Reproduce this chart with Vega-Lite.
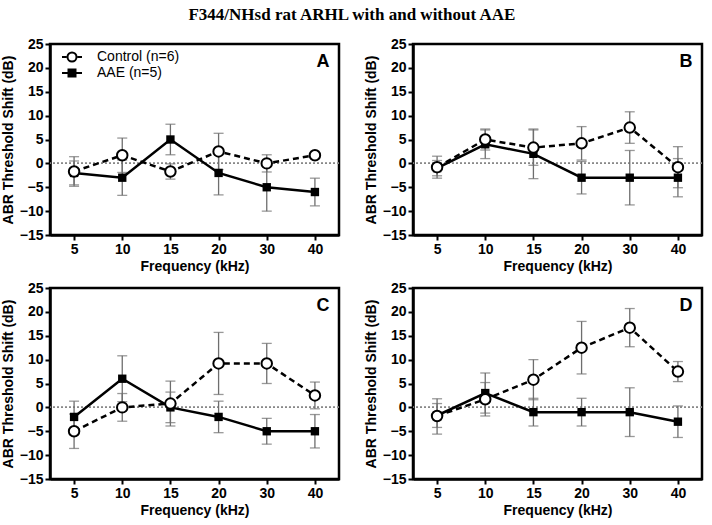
{
  "$schema": "https://vega.github.io/schema/vega-lite/v6.json",
  "title": {
    "text": "F344/NHsd rat ARHL with and without AAE",
    "font": "Liberation Serif",
    "fontSize": 17,
    "fontWeight": 900,
    "color": "#000000",
    "anchor": "middle",
    "offset": 12
  },
  "background": "#ffffff",
  "padding": {"left": 0, "top": 5, "right": 5, "bottom": 5},
  "config": {
    "view": {"stroke": "#000000", "strokeWidth": 2.5},
    "axis": {
      "grid": false,
      "domainColor": "#000000",
      "domainWidth": 2.5,
      "tickColor": "#000000",
      "tickWidth": 2,
      "tickSize": 5,
      "labelOverlap": false,
      "labelFont": "Liberation Sans",
      "labelFontSize": 14,
      "labelFontWeight": "bold",
      "labelColor": "#000000",
      "titleFont": "Liberation Sans",
      "titleFontSize": 14,
      "titleFontWeight": "bold",
      "titleColor": "#000000"
    }
  },
  "data": {
    "values": [
      {"panel": "A", "freq": "5", "group": "Control (n=6)", "mean": -1.7, "lo": -4.8, "hi": 1.4},
      {"panel": "A", "freq": "10", "group": "Control (n=6)", "mean": 1.7, "lo": -1.9, "hi": 5.3},
      {"panel": "A", "freq": "15", "group": "Control (n=6)", "mean": -1.7, "lo": -3.3, "hi": -0.1},
      {"panel": "A", "freq": "20", "group": "Control (n=6)", "mean": 2.5, "lo": -1.3, "hi": 6.3},
      {"panel": "A", "freq": "30", "group": "Control (n=6)", "mean": 0, "lo": -1.8, "hi": 1.8},
      {"panel": "A", "freq": "40", "group": "Control (n=6)", "mean": 1.7, "lo": 1.2, "hi": 2.2},
      {"panel": "A", "freq": "5", "group": "AAE (n=5)", "mean": -2, "lo": -4.5, "hi": 0.5},
      {"panel": "A", "freq": "10", "group": "AAE (n=5)", "mean": -3, "lo": -6.7, "hi": 0.7},
      {"panel": "A", "freq": "15", "group": "AAE (n=5)", "mean": 5, "lo": 1.8, "hi": 8.2},
      {"panel": "A", "freq": "20", "group": "AAE (n=5)", "mean": -2, "lo": -6.6, "hi": 2.6},
      {"panel": "A", "freq": "30", "group": "AAE (n=5)", "mean": -5, "lo": -10, "hi": 0},
      {"panel": "A", "freq": "40", "group": "AAE (n=5)", "mean": -6, "lo": -8.9, "hi": -3.1},
      {"panel": "B", "freq": "5", "group": "Control (n=6)", "mean": -0.8, "lo": -3.1, "hi": 1.5},
      {"panel": "B", "freq": "10", "group": "Control (n=6)", "mean": 5, "lo": 2.8, "hi": 7.2},
      {"panel": "B", "freq": "15", "group": "Control (n=6)", "mean": 3.3, "lo": -0.4, "hi": 7.0},
      {"panel": "B", "freq": "20", "group": "Control (n=6)", "mean": 4.2, "lo": 0.7, "hi": 7.7},
      {"panel": "B", "freq": "30", "group": "Control (n=6)", "mean": 7.5, "lo": 4.2, "hi": 10.8},
      {"panel": "B", "freq": "40", "group": "Control (n=6)", "mean": -0.8, "lo": -5.1, "hi": 3.5},
      {"panel": "B", "freq": "5", "group": "AAE (n=5)", "mean": -1, "lo": -2.6, "hi": 0.6},
      {"panel": "B", "freq": "10", "group": "AAE (n=5)", "mean": 4, "lo": 1, "hi": 7},
      {"panel": "B", "freq": "15", "group": "AAE (n=5)", "mean": 2, "lo": -3.2, "hi": 7.2},
      {"panel": "B", "freq": "20", "group": "AAE (n=5)", "mean": -3, "lo": -6.4, "hi": 0.4},
      {"panel": "B", "freq": "30", "group": "AAE (n=5)", "mean": -3, "lo": -8.7, "hi": 2.7},
      {"panel": "B", "freq": "40", "group": "AAE (n=5)", "mean": -3, "lo": -7, "hi": 1},
      {"panel": "C", "freq": "5", "group": "Control (n=6)", "mean": -5, "lo": -8.6, "hi": -1.4},
      {"panel": "C", "freq": "10", "group": "Control (n=6)", "mean": 0, "lo": -2.9, "hi": 2.9},
      {"panel": "C", "freq": "15", "group": "Control (n=6)", "mean": 0.8, "lo": -3.9, "hi": 5.5},
      {"panel": "C", "freq": "20", "group": "Control (n=6)", "mean": 9.2, "lo": 2.7, "hi": 15.7},
      {"panel": "C", "freq": "30", "group": "Control (n=6)", "mean": 9.2, "lo": 5, "hi": 13.4},
      {"panel": "C", "freq": "40", "group": "Control (n=6)", "mean": 2.5, "lo": -0.3, "hi": 5.3},
      {"panel": "C", "freq": "5", "group": "AAE (n=5)", "mean": -2, "lo": -5.3, "hi": 1.3},
      {"panel": "C", "freq": "10", "group": "AAE (n=5)", "mean": 6, "lo": 1.2, "hi": 10.8},
      {"panel": "C", "freq": "15", "group": "AAE (n=5)", "mean": 0, "lo": -3.2, "hi": 3.2},
      {"panel": "C", "freq": "20", "group": "AAE (n=5)", "mean": -2, "lo": -5.3, "hi": 1.3},
      {"panel": "C", "freq": "30", "group": "AAE (n=5)", "mean": -5, "lo": -7.7, "hi": -2.3},
      {"panel": "C", "freq": "40", "group": "AAE (n=5)", "mean": -5, "lo": -8.5, "hi": -1.5},
      {"panel": "D", "freq": "5", "group": "Control (n=6)", "mean": -1.8, "lo": -5.6, "hi": 1.8},
      {"panel": "D", "freq": "10", "group": "Control (n=6)", "mean": 1.7, "lo": -1.8, "hi": 5.2},
      {"panel": "D", "freq": "15", "group": "Control (n=6)", "mean": 5.8, "lo": 1.6, "hi": 10},
      {"panel": "D", "freq": "20", "group": "Control (n=6)", "mean": 12.5, "lo": 7, "hi": 18},
      {"panel": "D", "freq": "30", "group": "Control (n=6)", "mean": 16.7, "lo": 12.7, "hi": 20.7},
      {"panel": "D", "freq": "40", "group": "Control (n=6)", "mean": 7.5, "lo": 5.4, "hi": 9.6},
      {"panel": "D", "freq": "5", "group": "AAE (n=5)", "mean": -1.7, "lo": -4.2, "hi": 0.8},
      {"panel": "D", "freq": "10", "group": "AAE (n=5)", "mean": 3, "lo": -1.2, "hi": 7.2},
      {"panel": "D", "freq": "15", "group": "AAE (n=5)", "mean": -1, "lo": -3.9, "hi": 1.9},
      {"panel": "D", "freq": "20", "group": "AAE (n=5)", "mean": -1, "lo": -3.9, "hi": 1.9},
      {"panel": "D", "freq": "30", "group": "AAE (n=5)", "mean": -1, "lo": -6.1, "hi": 4.1},
      {"panel": "D", "freq": "40", "group": "AAE (n=5)", "mean": -3, "lo": -6.3, "hi": 0.3}
    ]
  },
  "spacing": 4,
  "vconcat": [
    {
      "spacing": 22,
      "hconcat": [
        {
          "transform": [{"filter": "datum.panel === 'A'"}],
          "width": 289,
          "height": 191,
          "encoding": {
            "x": {"field": "freq", "type": "ordinal", "scale": {"type": "point", "padding": 0.5, "domain": ["5", "10", "15", "20", "30", "40"]}, "axis": {"title": "Frequency (kHz)", "labelAngle": 0, "titlePadding": 3}},
            "y": {"field": "mean", "type": "quantitative", "scale": {"domain": [-15, 25]}, "axis": {"title": "ABR Threshold Shift (dB)", "values": [-15, -10, -5, 0, 5, 10, 15, 20, 25], "labelOverlap": false, "titlePadding": 4}}
          },
          "layer": [
            {"mark": {"type": "rule", "color": "#888888", "strokeDash": [2, 2], "strokeWidth": 1}, "encoding": {"x": null, "y": {"datum": 0, "type": "quantitative"}}},
            {"mark": {"type": "errorbar", "color": "#6e6e6e", "thickness": 1.3, "ticks": {"size": 10, "color": "#6e6e6e", "thickness": 1.3}}, "encoding": {"y": {"field": "lo", "type": "quantitative"}, "y2": {"field": "hi"}, "detail": {"field": "group"}}},
            {"transform": [{"filter": "datum.group === 'Control (n=6)'"}], "mark": {"type": "line", "color": "#000000", "strokeWidth": 2.5, "strokeDash": [6, 4]}},
            {"transform": [{"filter": "datum.group === 'AAE (n=5)'"}], "mark": {"type": "line", "color": "#000000", "strokeWidth": 2.5}},
            {"transform": [{"filter": "datum.group === 'AAE (n=5)'"}], "mark": {"type": "point", "shape": "square", "filled": true, "color": "#000000", "opacity": 1, "size": 70}},
            {"transform": [{"filter": "datum.group === 'Control (n=6)'"}], "mark": {"type": "point", "shape": "circle", "filled": true, "fill": "#ffffff", "stroke": "#000000", "strokeWidth": 2, "opacity": 1, "size": 110}},
            {
              "transform": [{"filter": "datum.freq === 'none'"}],
              "mark": {"type": "point", "filled": false, "color": "#000000", "strokeWidth": 2, "opacity": 1},
              "encoding": {
                "shape": {
                  "field": "group",
                  "type": "nominal",
                  "scale": {"domain": ["Control (n=6)", "AAE (n=5)"], "range": ["M-2,0H-1.1M1.1,0H2M0.9,0A0.9,0.9,0,1,1,-0.9,0A0.9,0.9,0,1,1,0.9,0", "M-2,0H2M-0.7,-0.7H0.7V0.7H-0.7ZM-0.7,-0.35H0.7M-0.7,0.35H0.7"]},
                  "legend": {
                    "title": null,
                    "orient": "none",
                    "legendX": 15,
                    "legendY": 6,
                    "symbolSize": 100,
                    "symbolStrokeWidth": 2,
                    "symbolStrokeColor": "#000000",
                    "symbolOpacity": 1,
                    "labelFont": "Liberation Sans",
                    "labelFontSize": 14,
                    "labelColor": "#000000",
                    "labelOffset": 18,
                    "rowPadding": -1
                  }
                }
              }
            },
            {"transform": [{"filter": "datum.freq === '40' && datum.group === 'AAE (n=5)'"}], "mark": {"type": "text", "font": "Liberation Sans", "fontSize": 18, "fontWeight": "bold", "color": "#000000", "dx": 8, "baseline": "middle", "align": "center"}, "encoding": {"y": {"datum": 21.2, "type": "quantitative"}, "text": {"field": "panel"}}}
          ]
        },
        {
          "transform": [{"filter": "datum.panel === 'B'"}],
          "width": 289,
          "height": 191,
          "encoding": {
            "x": {"field": "freq", "type": "ordinal", "scale": {"type": "point", "padding": 0.5, "domain": ["5", "10", "15", "20", "30", "40"]}, "axis": {"title": "Frequency (kHz)", "labelAngle": 0, "titlePadding": 3}},
            "y": {"field": "mean", "type": "quantitative", "scale": {"domain": [-15, 25]}, "axis": {"title": "ABR Threshold Shift (dB)", "values": [-15, -10, -5, 0, 5, 10, 15, 20, 25], "labelOverlap": false, "titlePadding": 4}}
          },
          "layer": [
            {"mark": {"type": "rule", "color": "#888888", "strokeDash": [2, 2], "strokeWidth": 1}, "encoding": {"x": null, "y": {"datum": 0, "type": "quantitative"}}},
            {"mark": {"type": "errorbar", "color": "#6e6e6e", "thickness": 1.3, "ticks": {"size": 10, "color": "#6e6e6e", "thickness": 1.3}}, "encoding": {"y": {"field": "lo", "type": "quantitative"}, "y2": {"field": "hi"}, "detail": {"field": "group"}}},
            {"transform": [{"filter": "datum.group === 'Control (n=6)'"}], "mark": {"type": "line", "color": "#000000", "strokeWidth": 2.5, "strokeDash": [6, 4]}},
            {"transform": [{"filter": "datum.group === 'AAE (n=5)'"}], "mark": {"type": "line", "color": "#000000", "strokeWidth": 2.5}},
            {"transform": [{"filter": "datum.group === 'AAE (n=5)'"}], "mark": {"type": "point", "shape": "square", "filled": true, "color": "#000000", "opacity": 1, "size": 70}},
            {"transform": [{"filter": "datum.group === 'Control (n=6)'"}], "mark": {"type": "point", "shape": "circle", "filled": true, "fill": "#ffffff", "stroke": "#000000", "strokeWidth": 2, "opacity": 1, "size": 110}},
            {"transform": [{"filter": "datum.freq === '40' && datum.group === 'AAE (n=5)'"}], "mark": {"type": "text", "font": "Liberation Sans", "fontSize": 18, "fontWeight": "bold", "color": "#000000", "dx": 8, "baseline": "middle", "align": "center"}, "encoding": {"y": {"datum": 21.2, "type": "quantitative"}, "text": {"field": "panel"}}}
          ]
        }
      ]
    },
    {
      "spacing": 22,
      "hconcat": [
        {
          "transform": [{"filter": "datum.panel === 'C'"}],
          "width": 289,
          "height": 191,
          "encoding": {
            "x": {"field": "freq", "type": "ordinal", "scale": {"type": "point", "padding": 0.5, "domain": ["5", "10", "15", "20", "30", "40"]}, "axis": {"title": "Frequency (kHz)", "labelAngle": 0, "titlePadding": 3}},
            "y": {"field": "mean", "type": "quantitative", "scale": {"domain": [-15, 25]}, "axis": {"title": "ABR Threshold Shift (dB)", "values": [-15, -10, -5, 0, 5, 10, 15, 20, 25], "labelOverlap": false, "titlePadding": 4}}
          },
          "layer": [
            {"mark": {"type": "rule", "color": "#888888", "strokeDash": [2, 2], "strokeWidth": 1}, "encoding": {"x": null, "y": {"datum": 0, "type": "quantitative"}}},
            {"mark": {"type": "errorbar", "color": "#6e6e6e", "thickness": 1.3, "ticks": {"size": 10, "color": "#6e6e6e", "thickness": 1.3}}, "encoding": {"y": {"field": "lo", "type": "quantitative"}, "y2": {"field": "hi"}, "detail": {"field": "group"}}},
            {"transform": [{"filter": "datum.group === 'Control (n=6)'"}], "mark": {"type": "line", "color": "#000000", "strokeWidth": 2.5, "strokeDash": [6, 4]}},
            {"transform": [{"filter": "datum.group === 'AAE (n=5)'"}], "mark": {"type": "line", "color": "#000000", "strokeWidth": 2.5}},
            {"transform": [{"filter": "datum.group === 'AAE (n=5)'"}], "mark": {"type": "point", "shape": "square", "filled": true, "color": "#000000", "opacity": 1, "size": 70}},
            {"transform": [{"filter": "datum.group === 'Control (n=6)'"}], "mark": {"type": "point", "shape": "circle", "filled": true, "fill": "#ffffff", "stroke": "#000000", "strokeWidth": 2, "opacity": 1, "size": 110}},
            {"transform": [{"filter": "datum.freq === '40' && datum.group === 'AAE (n=5)'"}], "mark": {"type": "text", "font": "Liberation Sans", "fontSize": 18, "fontWeight": "bold", "color": "#000000", "dx": 8, "baseline": "middle", "align": "center"}, "encoding": {"y": {"datum": 21.2, "type": "quantitative"}, "text": {"field": "panel"}}}
          ]
        },
        {
          "transform": [{"filter": "datum.panel === 'D'"}],
          "width": 289,
          "height": 191,
          "encoding": {
            "x": {"field": "freq", "type": "ordinal", "scale": {"type": "point", "padding": 0.5, "domain": ["5", "10", "15", "20", "30", "40"]}, "axis": {"title": "Frequency (kHz)", "labelAngle": 0, "titlePadding": 3}},
            "y": {"field": "mean", "type": "quantitative", "scale": {"domain": [-15, 25]}, "axis": {"title": "ABR Threshold Shift (dB)", "values": [-15, -10, -5, 0, 5, 10, 15, 20, 25], "labelOverlap": false, "titlePadding": 4}}
          },
          "layer": [
            {"mark": {"type": "rule", "color": "#888888", "strokeDash": [2, 2], "strokeWidth": 1}, "encoding": {"x": null, "y": {"datum": 0, "type": "quantitative"}}},
            {"mark": {"type": "errorbar", "color": "#6e6e6e", "thickness": 1.3, "ticks": {"size": 10, "color": "#6e6e6e", "thickness": 1.3}}, "encoding": {"y": {"field": "lo", "type": "quantitative"}, "y2": {"field": "hi"}, "detail": {"field": "group"}}},
            {"transform": [{"filter": "datum.group === 'Control (n=6)'"}], "mark": {"type": "line", "color": "#000000", "strokeWidth": 2.5, "strokeDash": [6, 4]}},
            {"transform": [{"filter": "datum.group === 'AAE (n=5)'"}], "mark": {"type": "line", "color": "#000000", "strokeWidth": 2.5}},
            {"transform": [{"filter": "datum.group === 'AAE (n=5)'"}], "mark": {"type": "point", "shape": "square", "filled": true, "color": "#000000", "opacity": 1, "size": 70}},
            {"transform": [{"filter": "datum.group === 'Control (n=6)'"}], "mark": {"type": "point", "shape": "circle", "filled": true, "fill": "#ffffff", "stroke": "#000000", "strokeWidth": 2, "opacity": 1, "size": 110}},
            {"transform": [{"filter": "datum.freq === '40' && datum.group === 'AAE (n=5)'"}], "mark": {"type": "text", "font": "Liberation Sans", "fontSize": 18, "fontWeight": "bold", "color": "#000000", "dx": 8, "baseline": "middle", "align": "center"}, "encoding": {"y": {"datum": 21.2, "type": "quantitative"}, "text": {"field": "panel"}}}
          ]
        }
      ]
    }
  ]
}
